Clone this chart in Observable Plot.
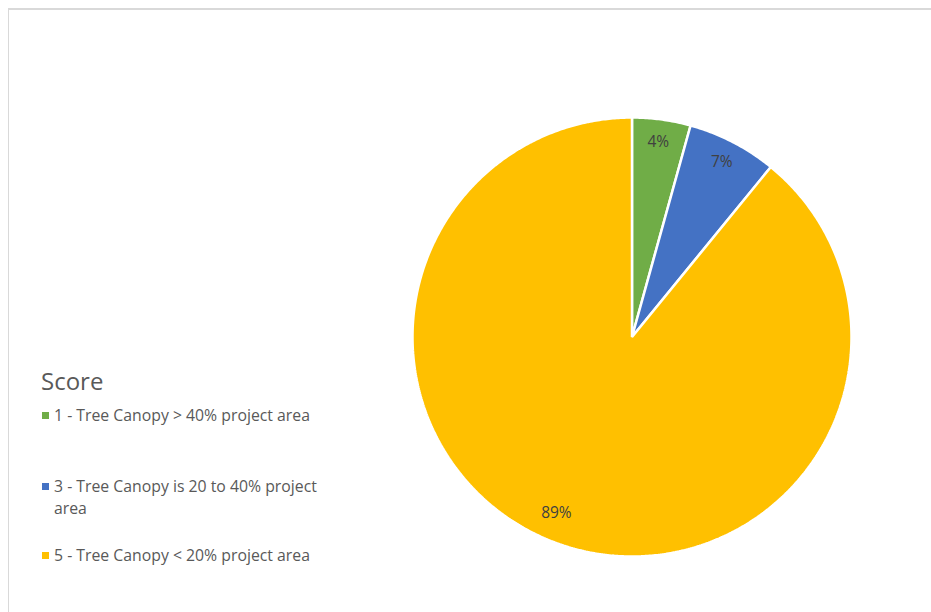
<!DOCTYPE html>
<html>
<head>
<meta charset="utf-8">
<script src="https://cdn.jsdelivr.net/npm/d3@7"></script>
<script src="https://cdn.jsdelivr.net/npm/@observablehq/plot@0.6"></script>
<style>
  html, body { margin: 0; padding: 0; background: #fff; }
  #wrap { position: relative; width: 931px; height: 612px; overflow: hidden; font-family: "Open Sans", "Noto Sans", sans-serif; }
  #frame { position: absolute; left: 8px; top: 8px; width: 940px; height: 620px; border-left: 1.5px solid #d9d9d9; border-top: 2px solid #d9d9d9; box-sizing: border-box; }
  #chart { position: absolute; left: 0; top: 0; }
  #legend { position: absolute; left: 0; top: 0; width: 931px; height: 612px; pointer-events: none; }
  .ltitle { position: absolute; left: 41px; top: 364px; font-size: 24px; color: #595959; }
  .item { position: absolute; left: 42px; font-size: 15.8px; color: #595959; line-height: 22px; white-space: nowrap; }
  .sw { display: inline-block; width: 7px; height: 7px; margin-right: 5px; vertical-align: 2px; }
</style>
</head>
<body>
<div id="wrap">
  <div id="frame"></div>
  <div id="chart"></div>
  <div id="legend"></div>
</div>
<script>
const categories = [
  "1 - Tree Canopy > 40% project area",
  "3 - Tree Canopy is 20 to 40% project area",
  "5 - Tree Canopy < 20% project area"
];
const shares = [4.3, 6.6, 89.1];
const sliceLabels = ["4%", "7%", "89%"];
const sliceColors = ["#70ad47", "#4472c4", "#ffc000"];
const legendTitle = "Score";
const legendLines = [
  ["1 - Tree Canopy > 40% project area"],
  ["3 - Tree Canopy is 20 to 40% project", "area"],
  ["5 - Tree Canopy < 20% project area"]
];

const arcs = d3.pie().sort(null).value(d => d)(shares);
const points = [];
const labelPts = [];
arcs.forEach((a, i) => {
  const cat = categories[i];
  points.push({cat, x: 0, y: 0});
  const n = Math.max(4, Math.ceil((a.endAngle - a.startAngle) / (Math.PI / 360)));
  for (let k = 0; k <= n; k++) {
    const t = a.startAngle + (a.endAngle - a.startAngle) * k / n;
    points.push({cat, x: Math.sin(t), y: Math.cos(t)});
  }
  const m = (a.startAngle + a.endAngle) / 2;
  labelPts.push({cat, label: sliceLabels[i], x: 0.89 * Math.sin(m), y: 0.89 * Math.cos(m)});
});

const plot = Plot.plot({
  width: 931,
  height: 612,
  marginLeft: 412,
  marginRight: 80,
  marginTop: 117,
  marginBottom: 56,
  x: {domain: [-1, 1], axis: null},
  y: {domain: [-1, 1], axis: null},
  color: {domain: categories, range: sliceColors},
  style: {background: "transparent", fontFamily: "Open Sans, Noto Sans, sans-serif"},
  marks: [
    Plot.line(points, {x: "x", y: "y", z: "cat", fill: "cat", stroke: "white", strokeWidth: 2.5, curve: "linear-closed", strokeLinejoin: "miter"}),
    Plot.text(labelPts.slice(0, 2), {x: "x", y: "y", text: "label", fill: "#404040", fontSize: 15.5, dy: -1}),
    Plot.text(labelPts.slice(2), {x: "x", y: "y", text: "label", fill: "#404040", fontSize: 15.5, dx: -10, dy: -8})
  ]
});
document.getElementById("chart").appendChild(plot);

const lg = document.getElementById("legend");
const t = document.createElement("div");
t.className = "ltitle";
t.textContent = legendTitle;
lg.appendChild(t);
const tops = [404, 475, 544];
legendLines.forEach((lines, i) => {
  const d = document.createElement("div");
  d.className = "item";
  d.style.top = tops[i] + "px";
  lines.forEach((ln, j) => {
    const row = document.createElement("div");
    if (j === 0) {
      const s = document.createElement("span");
      s.className = "sw";
      s.style.background = sliceColors[i];
      row.appendChild(s);
      row.appendChild(document.createTextNode(ln));
    } else {
      row.textContent = ln;
      row.style.paddingLeft = "12px";
    }
    d.appendChild(row);
  });
  lg.appendChild(d);
});
</script>
</body>
</html>
